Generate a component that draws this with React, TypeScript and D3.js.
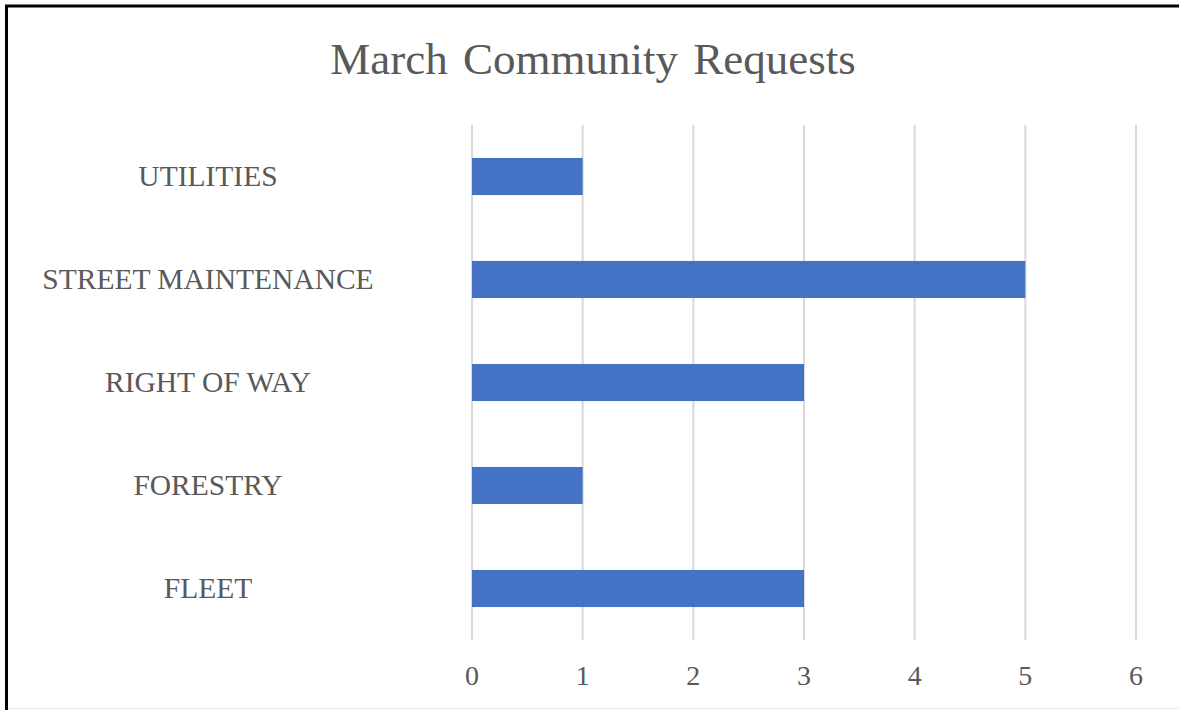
import React from "react";
import * as d3 from "d3";

const categories: string[] = ["UTILITIES", "STREET MAINTENANCE", "RIGHT OF WAY", "FORESTRY", "FLEET"];
const values: number[] = [1, 5, 3, 1, 3];
const xTicks: number[] = [0, 1, 2, 3, 4, 5, 6];
const title = "March Community Requests";

const W = 1179;
const H = 710;

export default function App() {
  const x = d3.scaleLinear().domain([0, 6]).range([472, 1136]);
  const y = d3.scaleBand<string>().domain(categories).range([125, 640]).paddingInner(0.64).paddingOuter(0.32);
  const font = "'Liberation Serif', 'Times New Roman', serif";
  const textColor = "#595959";
  return (
    <svg width={W} height={H} style={{ position: "absolute", left: 0, top: 0, background: "#fff" }}>
      <rect x={0} y={0} width={W} height={H} fill="#fff" />
      <line x1={6.5} y1={5} x2={6.5} y2={H} stroke="#000" strokeWidth={3} />
      <line x1={5} y1={6} x2={W} y2={6} stroke="#000" strokeWidth={3} />
      <line x1={8} y1={708.5} x2={W} y2={708.5} stroke="#e6e6e6" strokeWidth={1} />
      <text x={593} y={74} textAnchor="middle" fontFamily={font} fontSize={45} fill={textColor} wordSpacing={4}>
        {title}
      </text>
      {xTicks.map((t) => (
        <line key={"g" + t} x1={x(t)} x2={x(t)} y1={125} y2={640} stroke="#d9d9d9" strokeWidth={2} />
      ))}
      {categories.map((c, i) => (
        <rect key={c} x={x(0)} y={y(c)} width={x(values[i]) - x(0)} height={y.bandwidth()} fill="#4472C4" />
      ))}
      {categories.map((c) => (
        <text key={"l" + c} x={208} y={(y(c) as number) + y.bandwidth() / 2 + 9.5} textAnchor="middle" fontFamily={font} fontSize={29.5} fill={textColor}>
          {c}
        </text>
      ))}
      {xTicks.map((t) => (
        <text key={"t" + t} x={x(t)} y={685} textAnchor="middle" fontFamily={font} fontSize={28} fill={textColor}>
          {t}
        </text>
      ))}
    </svg>
  );
}
